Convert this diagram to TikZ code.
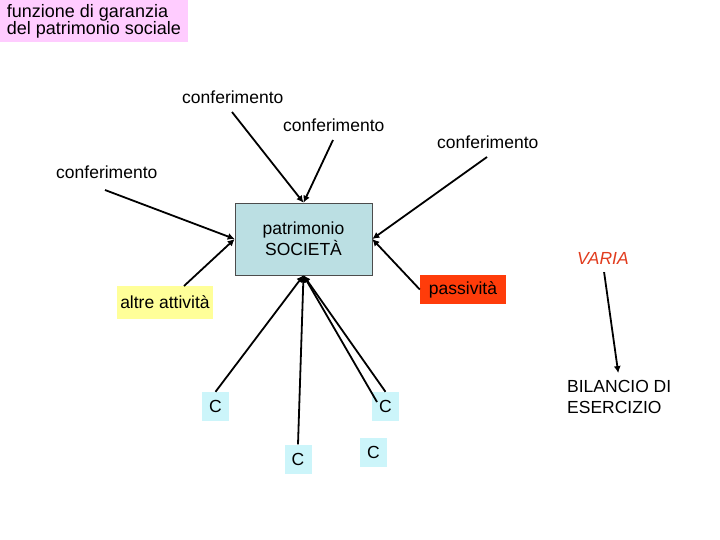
\documentclass[tikz,border=0pt]{standalone}
\usepackage{fontspec}
\setmainfont{Liberation Sans}
\usetikzlibrary{arrows.meta}
\definecolor{pinkfill}{RGB}{255,204,255}
\definecolor{socfill}{RGB}{187,223,227}
\definecolor{yelfill}{RGB}{255,255,153}
\definecolor{redfill}{RGB}{255,60,10}
\definecolor{cfill}{RGB}{204,245,250}
\definecolor{variared}{RGB}{225,60,30}
\begin{document}
\begin{tikzpicture}[x=1pt,y=-1pt,
  txt/.style={font=\fontsize{17.5}{21}\selectfont, inner sep=0pt},
  conn/.style={line width=1.8pt, -{Latex[length=7pt,width=7pt]}},
  cbox/.style={txt, fill=cfill, minimum width=27pt, minimum height=29pt}]
\useasboundingbox (0,0) rectangle (720,540);
% title
\node[txt, fill=pinkfill, minimum width=188pt, minimum height=42pt,
      font=\fontsize{18}{17}\selectfont, align=left] (title) at (94,21)
  {funzione di garanzia\\del patrimonio sociale};
% central box
\node[txt, fill=socfill, draw=black!70, line width=0.6pt, minimum width=137pt, minimum height=72pt, align=center,
      font=\fontsize{17.5}{21}\selectfont] (soc) at (303.5,239) {patrimonio\\SOCIETÀ};
% labels
\node[txt, anchor=base west] (c1) at (182,104) {conferimento};
\node[txt, anchor=base west] (c2) at (283,132) {conferimento};
\node[txt, anchor=base west] (c3) at (437,149) {conferimento};
\node[txt, anchor=base west] (c4) at (56,179) {conferimento};
\node[txt, fill=yelfill, minimum width=96pt, minimum height=33pt] (alt) at (165,302.5) {altre attività};
\node[txt, fill=redfill, minimum width=86pt, minimum height=29pt] (pas) at (463,289.5) {passività};
\node[txt, anchor=base west, text=variared, font=\fontsize{17.5}{21}\selectfont\itshape] (varia) at (577,264) {VARIA};
\node[txt, anchor=north west, align=left] (bil) at (567,380) {BILANCIO DI\\ESERCIZIO};
\node[cbox] (k1) at (215.5,406.5) {C};
\node[cbox] (k2) at (298,459) {C};
\node[cbox] (k3) at (385.5,406.5) {C};
\node[cbox] (k4) at (373.5,452.5) {C};
% free ends
\coordinate (s1) at (232,112);
\coordinate (s2) at (333,140);
\coordinate (s3) at (487,157);
\coordinate (s4) at (105,190);
\coordinate (sa) at (184,286);
\coordinate (sk3) at (377,402);
% connectors
\draw[conn] (s1) -- (soc.north);
\draw[conn] (s2) -- (soc.north);
\draw[conn] (s3) -- (soc.east);
\draw[conn] (pas.west) -- (soc.east);
\draw[conn] (s4) -- (soc.west);
\draw[conn] (sa) -- (soc.west);
\draw[conn] (k1.north) -- (soc.south);
\draw[conn] (k2.north) -- (soc.south);
\draw[conn] (k3.north) -- (soc.south);
\draw[conn] (sk3) -- (soc.south);
\draw[conn, shorten <=8pt, shorten >=7pt] (varia.south) -- (bil.north);
\end{tikzpicture}
\end{document}
